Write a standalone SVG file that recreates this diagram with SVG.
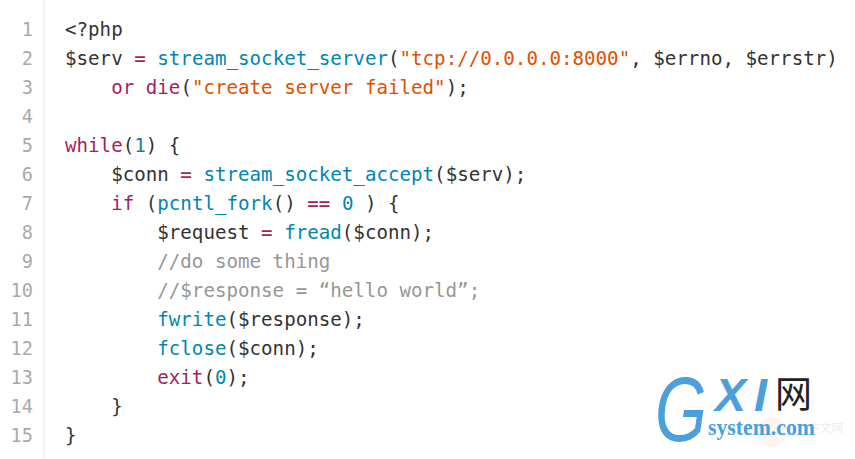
<svg xmlns="http://www.w3.org/2000/svg" width="855" height="459" viewBox="0 0 855 459">
<style>
text{white-space:pre}
.c{font-family:"DejaVu Sans Mono","Liberation Mono",monospace;font-size:19.17px;fill:#333}
.n{font-family:"DejaVu Sans Mono","Liberation Mono",monospace;font-size:18.6px;fill:#aaa;text-anchor:end}
.k{fill:#a71d5d}.f{fill:#0086b3}.s{fill:#df5000}.g{fill:#969896}
.b{font-family:"Liberation Sans",sans-serif;font-style:italic;fill:#4a9fdc}
</style>
<rect width="855" height="459" fill="#fff"/>
<rect x="43" y="0" width="1.5" height="459" fill="#eeeeee"/>
<g id="gutter">
<text class="n" x="33" y="36">1</text>
<text class="n" x="33" y="65">2</text>
<text class="n" x="33" y="94">3</text>
<text class="n" x="33" y="123">4</text>
<text class="n" x="33" y="152">5</text>
<text class="n" x="33" y="181">6</text>
<text class="n" x="33" y="210">7</text>
<text class="n" x="33" y="239">8</text>
<text class="n" x="33" y="268">9</text>
<text class="n" x="33" y="297">10</text>
<text class="n" x="33" y="326">11</text>
<text class="n" x="33" y="355">12</text>
<text class="n" x="33" y="384">13</text>
<text class="n" x="33" y="413">14</text>
<text class="n" x="33" y="442">15</text>
</g>
<g id="code">
<text class="c" x="65" y="36">&lt;?php</text>
<text class="c" x="65" y="65">$serv <tspan class="k">=</tspan> <tspan class="f">stream_socket_server</tspan>(<tspan class="s">"tcp://0.0.0.0:8000"</tspan>, $errno, $errstr)</text>
<text class="c" x="65" y="94">    <tspan class="k">or</tspan> <tspan class="k">die</tspan>(<tspan class="s">"create server failed"</tspan>);</text>
<text class="c" x="65" y="152"><tspan class="k">while</tspan>(<tspan class="f">1</tspan>) {</text>
<text class="c" x="65" y="181">    $conn <tspan class="k">=</tspan> <tspan class="f">stream_socket_accept</tspan>($serv);</text>
<text class="c" x="65" y="210">    <tspan class="k">if</tspan> (<tspan class="f">pcntl_fork</tspan>() <tspan class="k">==</tspan> <tspan class="f">0</tspan> ) {</text>
<text class="c" x="65" y="239">        $request <tspan class="k">=</tspan> <tspan class="f">fread</tspan>($conn);</text>
<text class="c g" x="65" y="268">        //do some thing</text>
<text class="c g" x="65" y="297">        //$response = “hello world”;</text>
<text class="c" x="65" y="326">        <tspan class="f">fwrite</tspan>($response);</text>
<text class="c" x="65" y="355">        <tspan class="f">fclose</tspan>($conn);</text>
<text class="c" x="65" y="384">        <tspan class="k">exit</tspan>(<tspan class="f">0</tspan>);</text>
<text class="c" x="65" y="413">    }</text>
<text class="c" x="65" y="442">}</text>
</g>
<g id="watermark">
<circle cx="772" cy="432" r="15" fill="#fdf3f0"/>
<text x="808" y="431.500" font-family="'Noto Sans CJK SC',sans-serif" font-size="11.700" fill="#ececec">中文网</text>
<text class="b" transform="translate(655 441) scale(.74 1)" font-size="90">G</text>
<text class="b" x="715" y="411" font-size="47" font-weight="bold" textLength="31" lengthAdjust="spacingAndGlyphs">X</text>
<text class="b" x="754" y="411" font-size="47" font-weight="bold">I</text>
<text x="775" y="408" font-family="'Noto Sans CJK SC',sans-serif" font-size="37" fill="#222">网</text>
<text x="708" y="434.500" font-family="'Liberation Serif',serif" font-weight="bold" font-size="23" fill="#4a9fdc" textLength="107" lengthAdjust="spacingAndGlyphs">system.com</text>
</g>
</svg>
